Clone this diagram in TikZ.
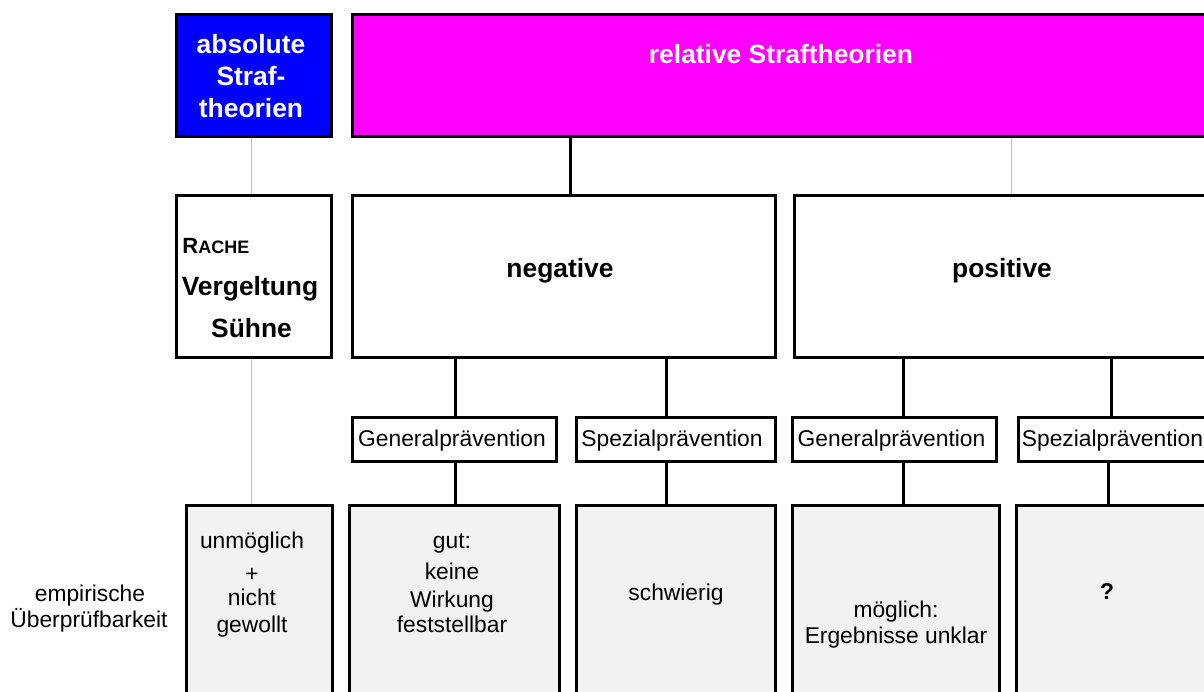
\documentclass[tikz,border=0pt]{standalone}
\usepackage{fontspec}
\setmainfont{Liberation Sans}
\usepackage{tikz}
\definecolor{boxgray}{RGB}{242,242,242}
\definecolor{linegray}{RGB}{192,192,192}
\definecolor{absblue}{RGB}{0,0,255}
\definecolor{relpink}{RGB}{255,0,255}

\begin{document}
\begin{tikzpicture}[x=0.5pt, y=-0.5pt,
    box/.style={draw, line width=1.5pt, inner sep=0pt},
    txt/.style={inner sep=0pt, anchor=base, font=\fontsize{11.4}{13}\selectfont},
    head/.style={inner sep=0pt, anchor=base, font=\fontsize{13.2}{16}\selectfont\bfseries},
    link/.style={line width=1.5pt},
    faint/.style={linegray, line width=0.5pt}]
        \useasboundingbox (0,0) rectangle (1204,691);
        \clip (0,0) rectangle (1204,691);

        % Boxes
        \node[box, fill=absblue, minimum width=77.5pt, minimum height=61pt] (abs) at (253.5,75) {};
        \node[box, fill=relpink, minimum width=429.5pt, minimum height=61pt] (rel) at (781.5,75) {};
        \node[box, minimum width=77.5pt, minimum height=81pt] (rache) at (253.5,276) {};
        \node[box, minimum width=211.5pt, minimum height=81pt] (neg) at (563.5,276) {};
        \node[box, minimum width=208.5pt, minimum height=81pt] (pos) at (1002.5,276) {};

        \node[box, minimum width=102pt, minimum height=22pt] (gen1) at (454,439) {};
        \node[box, minimum width=99.5pt, minimum height=22pt] (spez1) at (675.5,439) {};
        \node[box, minimum width=102pt, minimum height=22pt] (gen2) at (894,439) {};
        \node[box, minimum width=97pt, minimum height=22pt] (spez2) at (1115,439) {};

        \node[box, fill=boxgray, minimum width=73pt, minimum height=100pt] (emp1) at (259,605) {};
        \node[box, fill=boxgray, minimum width=105pt, minimum height=100pt] (emp2) at (454,605) {};
        \node[box, fill=boxgray, minimum width=99.5pt, minimum height=100pt] (emp3) at (675.5,605) {};
        \node[box, fill=boxgray, minimum width=103.5pt, minimum height=100pt] (emp4) at (895.5,605) {};
        \node[box, fill=boxgray, minimum width=107pt, minimum height=100pt] (emp5) at (1123,605) {};

        % Connector columns
        \coordinate (xa) at (570.5,0);
        \coordinate (xg) at (251.5,0);
        \coordinate (xp) at (1011,0);
        \coordinate (x1) at (455.5,0);
        \coordinate (x2) at (666.5,0);
        \coordinate (x3) at (903,0);
        \coordinate (x4) at (1111,0);
        \coordinate (x5) at (1108,0);

        % Edges
        \draw[link] (xa |- rel.south) -- (xa |- neg.north);
        \draw[faint] (xp |- rel.south) -- (xp |- pos.north);
        \draw[faint] (xg |- abs.south) -- (xg |- rache.north);
        \draw[faint] (xg |- rache.south) -- (xg |- emp1.north);
        \draw[link] (x1 |- neg.south) -- (x1 |- gen1.north);
        \draw[link] (x2 |- neg.south) -- (x2 |- spez1.north);
        \draw[link] (x3 |- pos.south) -- (x3 |- gen2.north);
        \draw[link] (x4 |- pos.south) -- (x4 |- spez2.north);
        \draw[link] (x1 |- gen1.south) -- (x1 |- emp2.north);
        \draw[link] (x2 |- spez1.south) -- (x2 |- emp3.north);
        \draw[link] (x3 |- gen2.south) -- (x3 |- emp4.north);
        \draw[link] (x5 |- spez2.south) -- (x5 |- emp5.north);

        % Texts
        \node[head, text=white] (abs1) at (251,53) {absolute};
        \node[head, text=white] (abs2) at (251,85) {Straf-};
        \node[head, text=white] (abs3) at (251,117) {theorien};
        \node[head, text=white] (reltxt) at (781,63) {relative Straftheorien};

        \node[head, anchor=base west] (r1) at (182,253) {\fontsize{11}{12}\selectfont R\fontsize{9}{10}\selectfont ACHE};
        \node[head] (r2) at (250,295) {Vergeltung};
        \node[head] (r3) at (251.5,337) {Sühne};
        \node[head] (negtxt) at (560,277) {negative};
        \node[head] (postxt) at (1002,277) {positive};

        \node[txt] (gen1txt) at (452,446) {Generalprävention};
        \node[txt] (spez1txt) at (672,446) {Spezialprävention};
        \node[txt] (gen2txt) at (891.5,446) {Generalprävention};
        \node[txt] (spez2txt) at (1112.5,446) {Spezialprävention};

        \node[txt] (e1a) at (252,548) {unmöglich};
        \node[txt] (e1b) at (252,581) {+};
        \node[txt] (e1c) at (252,605) {nicht};
        \node[txt] (e1d) at (252,632) {gewollt};
        \node[txt] (e2a) at (452,548) {gut:};
        \node[txt] (e2b) at (452,579) {keine};
        \node[txt] (e2c) at (452,607) {Wirkung};
        \node[txt] (e2d) at (452,632) {feststellbar};
        \node[txt] (e3a) at (676,600) {schwierig};
        \node[txt] (e4a) at (896,617) {möglich:};
        \node[txt] (e4b) at (896,643) {Ergebnisse unklar};
        \node[txt, font=\fontsize{11.4}{13}\selectfont\bfseries] (e5a) at (1107,599) {?};

        \node[txt] (lab1) at (90,601) {empirische};
        \node[txt] (lab2) at (89,627) {Überprüfbarkeit};
    \end{tikzpicture}
\end{document}
